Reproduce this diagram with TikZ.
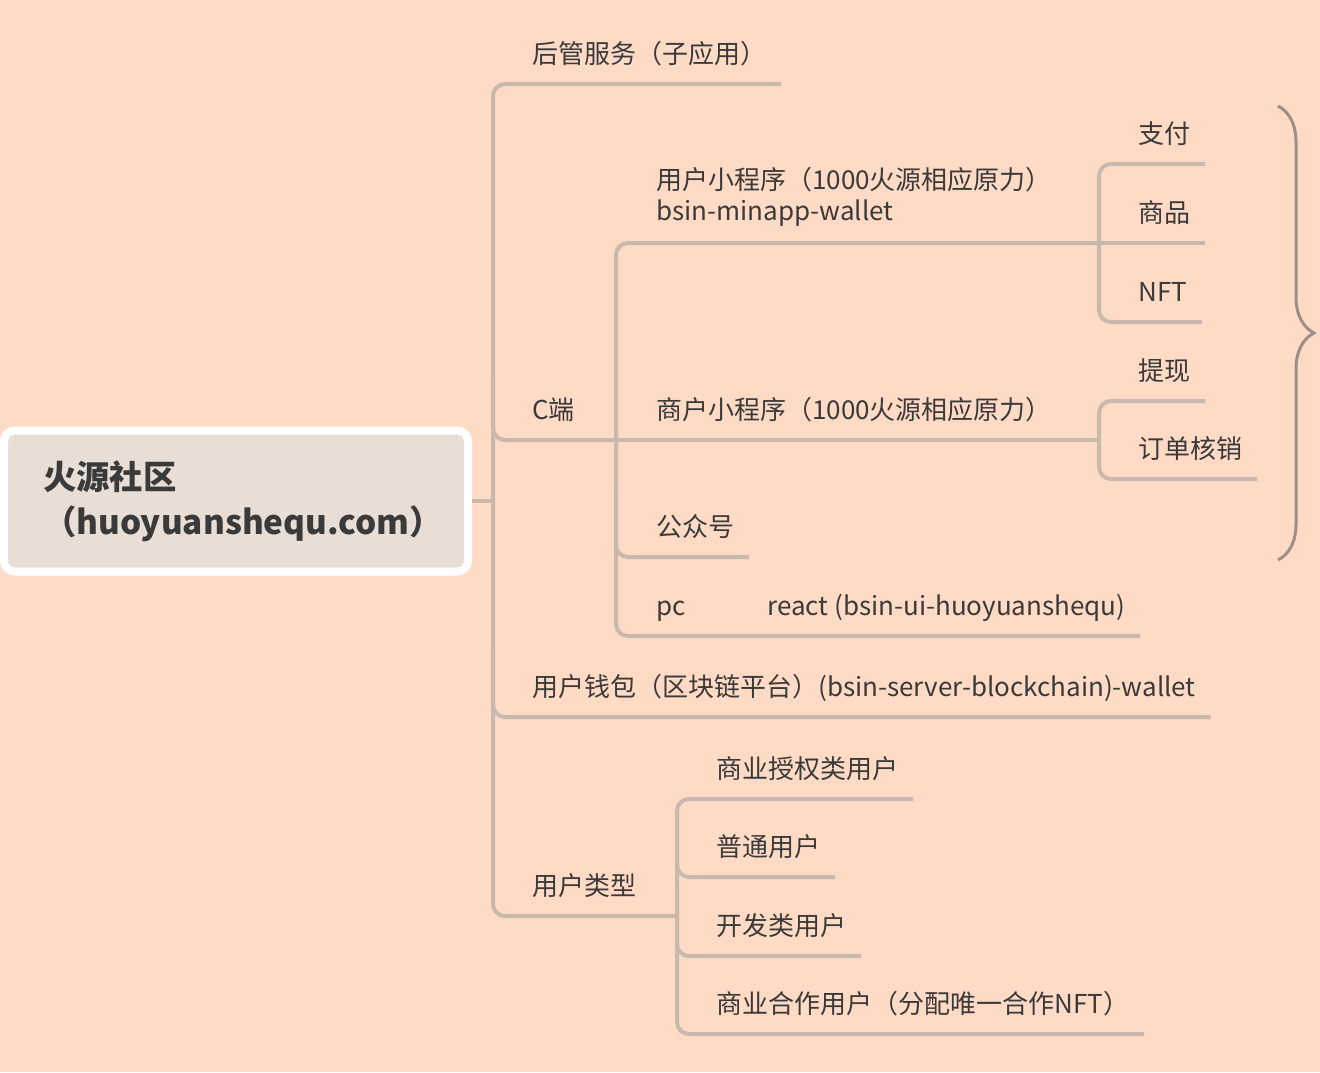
\documentclass[tikz,border=0pt]{standalone}
\usepackage{fontspec}
\setmainfont{Noto Sans CJK SC}
\usepackage{tikz}
\usetikzlibrary{decorations.pathreplacing}

\definecolor{bg}{RGB}{255,218,197}
\definecolor{ln}{RGB}{200,185,175}
\definecolor{ink}{RGB}{58,58,58}
\definecolor{rootfill}{RGB}{233,222,214}
\definecolor{brc}{RGB}{155,143,136}

\begin{document}
\begin{tikzpicture}[x=0.75pt,y=-0.75pt,
	topic/.style={anchor=south west, inner xsep=0pt, inner ysep=15pt, text depth=0pt,
		text=ink, font=\fontsize{19.5}{23.4}\selectfont},
	branch/.style={draw=ln, line width=3pt, rounded corners=9pt}]
	\fill[bg] (0,0) rectangle (1320,1072);
	\useasboundingbox (0,0) rectangle (1320,1072);
	% root
	\node[draw=white, line width=6pt, fill=rootfill, rounded corners=8pt,
		minimum width=348pt, minimum height=105.75pt, inner sep=0pt,
		text width=289.5pt, align=left, text=ink,
		font=\bfseries\fontsize{25}{33.75}\selectfont] (root) at (236,501) {火源社区\\（huoyuanshequ.com）};
	% first level
	\node[topic] at (532,84) (hg) {后管服务（子应用）};
	\node[topic] at (532,440) (cd) {C端};
	\node[topic] at (532,717) (qb) {用户钱包（区块链平台）(bsin-server-blockchain)-wallet};
	\node[topic] at (532,916) (lx) {用户类型};
	% C端
	\node[topic, anchor=north west, inner ysep=0pt, align=left] at (656,167) (xcx) {用户小程序（1000火源相应原力）\\bsin-minapp-wallet};
	\node[topic] at (656,440) (sh) {商户小程序（1000火源相应原力）};
	\node[topic] at (656,557) (gzh) {公众号};
	\node[topic] at (656,636) (pc) {pc};
	\node[topic] at (767,636) (react) {react (bsin-ui-huoyuanshequ)};
	\node[topic] at (1138,164) (zf) {支付};
	\node[topic] at (1138,243) (sp) {商品};
	\node[topic] at (1138,322) (nft) {NFT};
	\node[topic] at (1138,401) (tx) {提现};
	\node[topic] at (1138,479) (hx) {订单核销};
	% 用户类型
	\node[topic] at (716,799) (sq) {商业授权类用户};
	\node[topic] at (716,877) (pt) {普通用户};
	\node[topic] at (716,956) (kf) {开发类用户};
	\node[topic] at (716,1034) (hz) {商业合作用户（分配唯一合作NFT）};
	% junctions
	\coordinate (t1) at (493,501);
	\coordinate (t2) at (616,440);
	\coordinate (t3) at (1099,243);
	\coordinate (t4) at (677,916);
	\coordinate (t5) at (1099,440);
	% lines
	\draw[branch] (root.east) -- (t1);
	\draw[branch] ([xshift=11pt]hg.south east) -| (t1) |- (t4);
	\draw[branch] (t1 |- cd.north) |- (t2);
	\draw[branch] (t1 |- qb.north) |- ([xshift=11pt]qb.south east);
	\draw[branch] (t3) -| (t2) |- ([xshift=11pt]react.south east);
	\draw[branch] (t2) -- (t5);
	\draw[branch] (t2 |- gzh.north) |- ([xshift=11pt]gzh.south east);
	\draw[branch] ([xshift=11pt]zf.south east) -| (t3) |- ([xshift=11pt]nft.south east);
	\draw[branch] (t3) -- ([xshift=11pt]sp.south east);
	\draw[branch] ([xshift=11pt]tx.south east) -| (t5) |- ([xshift=11pt]hx.south east);
	\draw[branch] ([xshift=11pt]sq.south east) -| (t4) |- ([xshift=11pt]hz.south east);
	\draw[branch] (t4 |- pt.north) |- ([xshift=11pt]pt.south east);
	\draw[branch] (t4 |- kf.north) |- ([xshift=11pt]kf.south east);
	% summary brace
	\coordinate (sa) at (1278,106);
	\coordinate (sb) at (1278,560);
	\draw[brc, line width=2.25pt, decorate, decoration={brace, amplitude=27pt}] (sa) -- (sb);
\end{tikzpicture}
\end{document}
